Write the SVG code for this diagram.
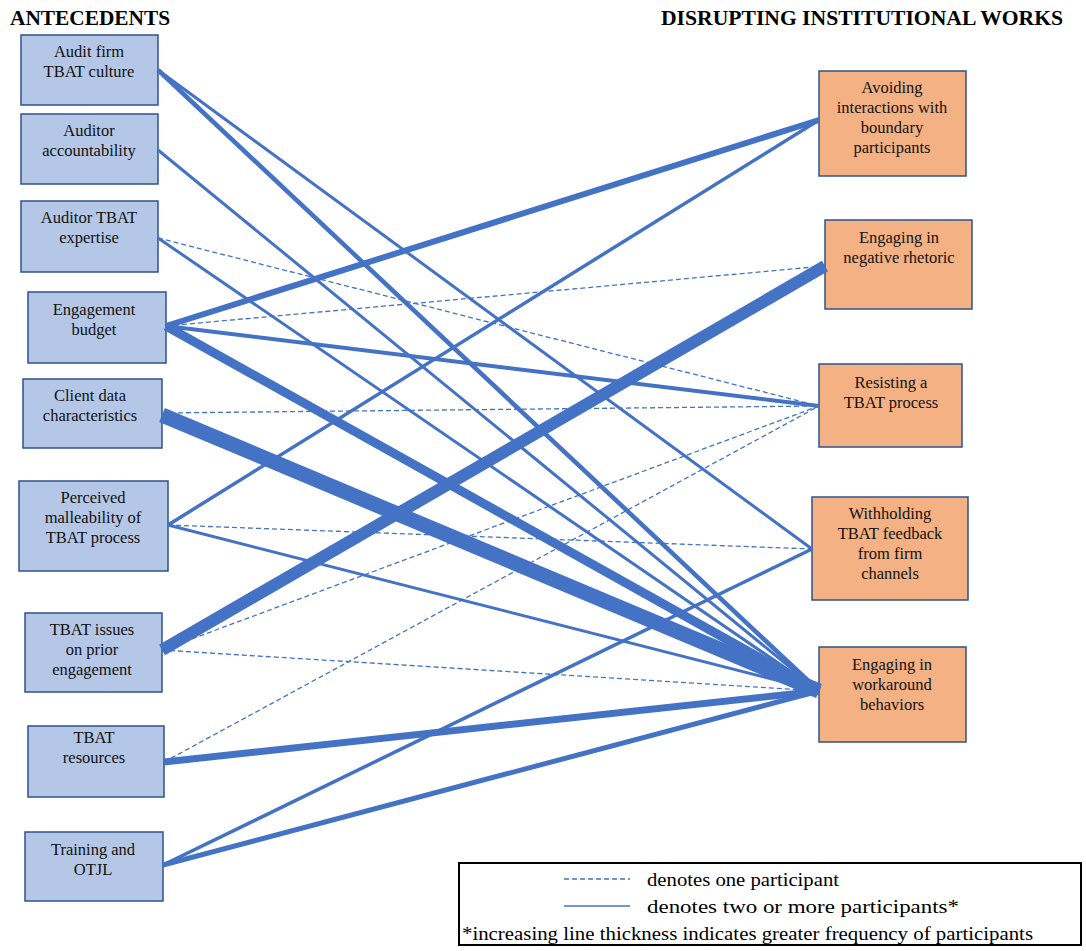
<svg xmlns="http://www.w3.org/2000/svg" width="1086" height="951" viewBox="0 0 1086 951" font-family="'Liberation Serif', 'Times New Roman', serif">
  <style>
    .title { font-family: 'Liberation Serif', 'Times New Roman', serif; font-weight: bold; font-size: 20px; fill: #000; }
    .ante rect { fill: #B4C7E7; stroke: #2F528F; stroke-width: 1.5; }
    .work rect { fill: #F4B183; stroke: #2F528F; stroke-width: 1.5; }
    .lbl { font-family: 'Liberation Serif', 'Times New Roman', serif; font-size: 16.5px; fill: #111; text-anchor: middle; }
    .solid { stroke: #4472C4; fill: none; }
    .dash { stroke: #4472C4; fill: none; stroke-width: 1.3; stroke-dasharray: 5 3; }
    .legtxt { font-family: 'Liberation Serif', 'Times New Roman', serif; font-size: 18px; fill: #000; }
  </style>

  <rect width="1086" height="951" fill="#fff"/>

  <!-- column headings -->
  <text class="title" x="10" y="25" textLength="160" lengthAdjust="spacingAndGlyphs">ANTECEDENTS</text>
  <text class="title" x="661" y="25" textLength="402" lengthAdjust="spacingAndGlyphs">DISRUPTING INSTITUTIONAL WORKS</text>

  <!-- antecedent nodes -->
  <g id="audit-firm-culture" class="ante">
    <rect x="21" y="35" width="137" height="70"/>
    <text class="lbl" x="89" y="57">Audit firm</text>
    <text class="lbl" x="89" y="77">TBAT culture</text>
  </g>
  <g id="auditor-accountability" class="ante">
    <rect x="21" y="114" width="137" height="70"/>
    <text class="lbl" x="89" y="136">Auditor</text>
    <text class="lbl" x="89" y="156">accountability</text>
  </g>
  <g id="auditor-expertise" class="ante">
    <rect x="21" y="201" width="137" height="71"/>
    <text class="lbl" x="89" y="223">Auditor TBAT</text>
    <text class="lbl" x="89" y="243">expertise</text>
  </g>
  <g id="engagement-budget" class="ante">
    <rect x="28" y="292" width="138" height="71"/>
    <text class="lbl" x="94" y="315">Engagement</text>
    <text class="lbl" x="94" y="335">budget</text>
  </g>
  <g id="client-data" class="ante">
    <rect x="23" y="379" width="139" height="69"/>
    <text class="lbl" x="90" y="401">Client data</text>
    <text class="lbl" x="90" y="421">characteristics</text>
  </g>
  <g id="perceived-malleability" class="ante">
    <rect x="19" y="481" width="149" height="90"/>
    <text class="lbl" x="93" y="503">Perceived</text>
    <text class="lbl" x="93" y="523">malleability of</text>
    <text class="lbl" x="93" y="543">TBAT process</text>
  </g>
  <g id="prior-issues" class="ante">
    <rect x="25" y="613" width="137" height="79"/>
    <text class="lbl" x="92" y="635">TBAT issues</text>
    <text class="lbl" x="92" y="655">on prior</text>
    <text class="lbl" x="92" y="675">engagement</text>
  </g>
  <g id="tbat-resources" class="ante">
    <rect x="28" y="726" width="136" height="71"/>
    <text class="lbl" x="94" y="743">TBAT</text>
    <text class="lbl" x="94" y="763">resources</text>
  </g>
  <g id="training-otjl" class="ante">
    <rect x="25" y="832" width="138" height="69"/>
    <text class="lbl" x="93" y="855">Training and</text>
    <text class="lbl" x="93" y="875">OTJL</text>
  </g>

  <!-- disrupting work nodes -->
  <g id="avoiding-interactions" class="work">
    <rect x="819" y="71" width="147" height="105"/>
    <text class="lbl" x="892" y="93">Avoiding</text>
    <text class="lbl" x="892" y="113">interactions with</text>
    <text class="lbl" x="892" y="133">boundary</text>
    <text class="lbl" x="892" y="153">participants</text>
  </g>
  <g id="negative-rhetoric" class="work">
    <rect x="825" y="220" width="147" height="89"/>
    <text class="lbl" x="899" y="243">Engaging  in</text>
    <text class="lbl" x="899" y="263">negative rhetoric</text>
  </g>
  <g id="resisting-process" class="work">
    <rect x="819" y="364" width="143" height="83"/>
    <text class="lbl" x="891" y="388">Resisting a</text>
    <text class="lbl" x="891" y="408">TBAT process</text>
  </g>
  <g id="withholding-feedback" class="work">
    <rect x="812" y="497" width="156" height="103"/>
    <text class="lbl" x="890" y="519">Withholding</text>
    <text class="lbl" x="890" y="539">TBAT feedback</text>
    <text class="lbl" x="890" y="559">from firm</text>
    <text class="lbl" x="890" y="579">channels</text>
  </g>
  <g id="workaround-behaviors" class="work">
    <rect x="819" y="647" width="147" height="95"/>
    <text class="lbl" x="892" y="670">Engaging  in</text>
    <text class="lbl" x="892" y="690">workaround</text>
    <text class="lbl" x="892" y="710">behaviors</text>
  </g>

  <!-- connectors: dashed = one participant, solid width grows with frequency -->
  <g id="connectors">
    <line class="solid" stroke-width="3" x1="158" y1="70" x2="812" y2="549"/>
    <line class="solid" stroke-width="4.5" x1="158" y1="70" x2="819" y2="691"/>
    <line class="solid" stroke-width="3" x1="158" y1="150" x2="819" y2="691"/>
    <line class="solid" stroke-width="3" x1="158" y1="238" x2="819" y2="691"/>
    <line class="dash" x1="158" y1="238" x2="819" y2="406"/>
    <line class="solid" stroke-width="6" x1="166" y1="326" x2="819" y2="120"/>
    <line class="dash" x1="166" y1="326" x2="825" y2="266"/>
    <line class="solid" stroke-width="4" x1="166" y1="326" x2="819" y2="406"/>
    <line class="solid" stroke-width="9" x1="166" y1="326" x2="819" y2="691"/>
    <line class="solid" stroke-width="15" x1="162" y1="415" x2="819" y2="691"/>
    <line class="dash" x1="162" y1="413" x2="819" y2="406"/>
    <line class="solid" stroke-width="3.5" x1="168" y1="525" x2="819" y2="120"/>
    <line class="dash" x1="168" y1="525" x2="812" y2="549"/>
    <line class="solid" stroke-width="3" x1="168" y1="525" x2="819" y2="691"/>
    <line class="solid" stroke-width="12" x1="162" y1="650" x2="825" y2="266"/>
    <line class="dash" x1="162" y1="650" x2="819" y2="406"/>
    <line class="dash" x1="162" y1="650" x2="819" y2="691"/>
    <line class="solid" stroke-width="7" x1="164" y1="762" x2="819" y2="691"/>
    <line class="dash" x1="164" y1="762" x2="819" y2="406"/>
    <line class="solid" stroke-width="3.5" x1="163" y1="865" x2="812" y2="549"/>
    <line class="solid" stroke-width="5" x1="163" y1="865" x2="819" y2="691"/>
  </g>

  <!-- legend -->
  <g id="legend">
    <rect x="459" y="863" width="622" height="82" fill="#fff" stroke="#000" stroke-width="2"/>
    <line class="dash" x1="564" y1="879" x2="630" y2="879"/>
    <text class="legtxt" x="647" y="886" textLength="192" lengthAdjust="spacingAndGlyphs">denotes one participant</text>
    <line class="solid" stroke-width="1.5" x1="564" y1="906" x2="630" y2="906"/>
    <text class="legtxt" x="647" y="913" textLength="312" lengthAdjust="spacingAndGlyphs">denotes two or more participants*</text>
    <text class="legtxt" x="462" y="940" textLength="571" lengthAdjust="spacingAndGlyphs">*increasing line thickness indicates greater frequency of participants</text>
  </g>
</svg>
